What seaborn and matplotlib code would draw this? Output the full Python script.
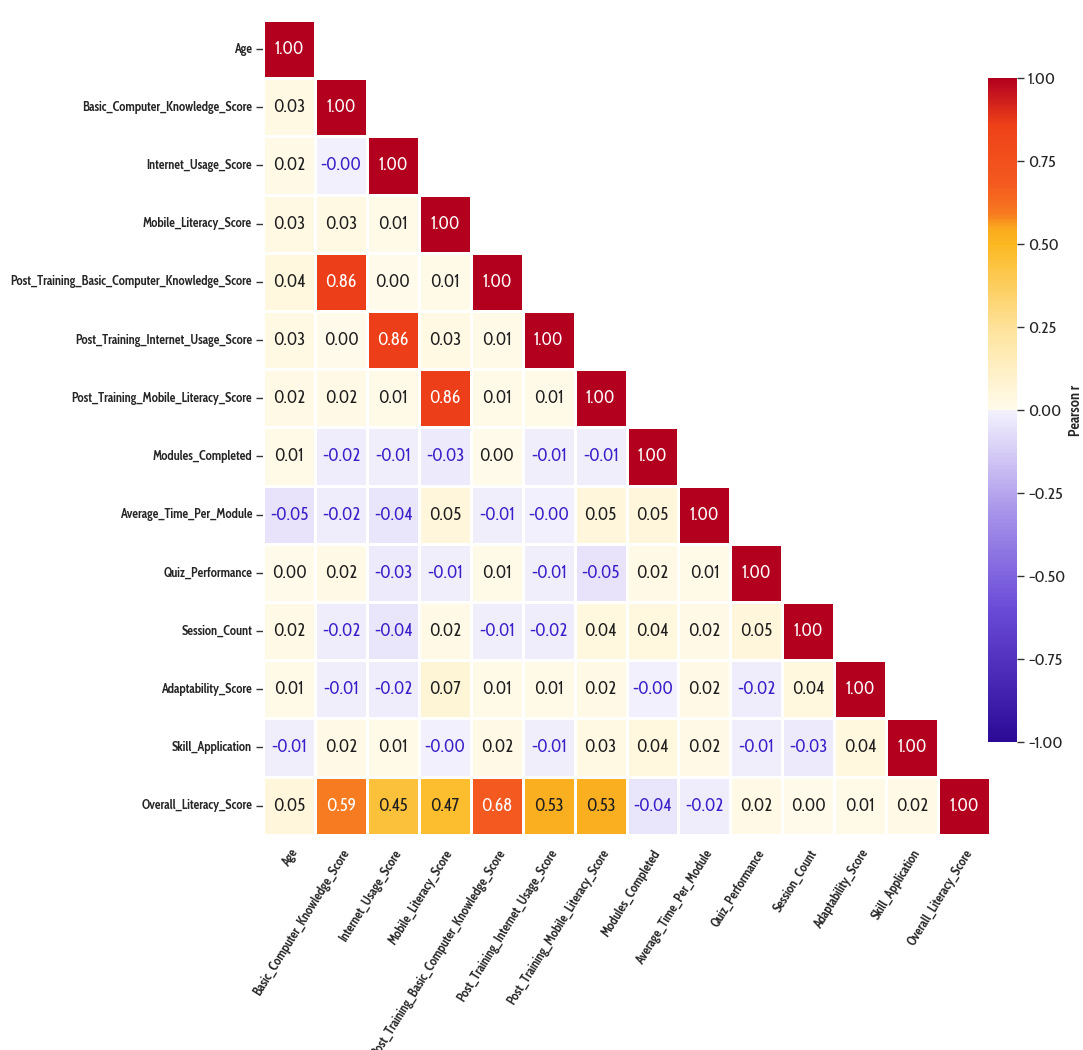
import numpy as np
import pandas as pd
import matplotlib
matplotlib.use("Agg")
import matplotlib.pyplot as plt
from matplotlib.colors import LinearSegmentedColormap
import seaborn as sns

features = [
    "Age",
    "Basic_Computer_Knowledge_Score",
    "Internet_Usage_Score",
    "Mobile_Literacy_Score",
    "Post_Training_Basic_Computer_Knowledge_Score",
    "Post_Training_Internet_Usage_Score",
    "Post_Training_Mobile_Literacy_Score",
    "Modules_Completed",
    "Average_Time_Per_Module",
    "Quiz_Performance",
    "Session_Count",
    "Adaptability_Score",
    "Skill_Application",
    "Overall_Literacy_Score",
]

# Lower-triangle Pearson correlations, row by row (diagonal included)
r_age = [1.00]
r_bck = [0.03, 1.00]
r_iu = [0.02, -0.004, 1.00]
r_ml = [0.03, 0.03, 0.01, 1.00]
r_pt_bck = [0.04, 0.86, 0.00, 0.01, 1.00]
r_pt_iu = [0.03, 0.00, 0.86, 0.03, 0.01, 1.00]
r_pt_ml = [0.02, 0.02, 0.01, 0.86, 0.01, 0.01, 1.00]
r_modules = [0.01, -0.02, -0.01, -0.03, 0.00, -0.01, -0.01, 1.00]
r_avg_time = [-0.05, -0.02, -0.04, 0.05, -0.01, -0.004, 0.05, 0.05, 1.00]
r_quiz = [0.00, 0.02, -0.03, -0.01, 0.01, -0.01, -0.05, 0.02, 0.01, 1.00]
r_session = [0.02, -0.02, -0.04, 0.02, -0.01, -0.02, 0.04, 0.04, 0.02, 0.05, 1.00]
r_adapt = [0.01, -0.01, -0.02, 0.07, 0.01, 0.01, 0.02, -0.004, 0.02, -0.02, 0.04, 1.00]
r_skill = [-0.01, 0.02, 0.01, -0.004, 0.02, -0.01, 0.03, 0.04, 0.02, -0.01, -0.03, 0.04, 1.00]
r_overall = [0.05, 0.59, 0.45, 0.47, 0.68, 0.53, 0.53, -0.04, -0.02, 0.02, 0.00, 0.01, 0.02, 1.00]

rows = [r_age, r_bck, r_iu, r_ml, r_pt_bck, r_pt_iu, r_pt_ml, r_modules,
        r_avg_time, r_quiz, r_session, r_adapt, r_skill, r_overall]

n = len(features)
mat = np.zeros((n, n))
for i, row in enumerate(rows):
    for j, v in enumerate(row):
        mat[i, j] = v
        mat[j, i] = v
corr = pd.DataFrame(mat, index=features, columns=features)
mask = np.triu(np.ones((n, n), dtype=bool), k=1)

# Diverging map: indigo -> pale lavender | cream -> gold -> orange -> dark red
cmap = LinearSegmentedColormap.from_list(
    "literacy_div",
    [
        (0.00, "#2b0a96"),
        (0.20, "#6a4bd8"),
        (0.35, "#a996ea"),
        (0.45, "#dcd5f7"),
        (0.499, "#f3f1fd"),
        (0.501, "#fffaeb"),
        (0.56, "#fef0c6"),
        (0.625, "#fde29a"),
        (0.725, "#fcc13a"),
        (0.75, "#fbb822"),
        (0.775, "#faa91e"),
        (0.795, "#f77c20"),
        (0.84, "#f45a1f"),
        (0.93, "#ee4119"),
        (1.00, "#b3001f"),
    ],
)

sns.set_theme(style="white")
face = ["Cabin Condensed", "Archivo Narrow", "DejaVu Sans"]
plt.rcParams["font.family"] = face
plt.rcParams["axes.unicode_minus"] = True

fig = plt.figure(figsize=(10.83, 10.50), dpi=100)
ax = fig.add_axes([0.243, 0.205, 0.671, 0.776])
cax = fig.add_axes([0.912, 0.293, 0.027, 0.633])

sns.heatmap(
    corr, mask=mask, cmap=cmap, vmin=-1, vmax=1, center=0,
    annot=False, square=False, linewidths=1.0, linecolor="white",
    cbar=True, cbar_ax=cax, ax=ax,
)

# Value labels with colour keyed to sign and magnitude
for i in range(n):
    for j in range(i + 1):
        v = mat[i, j]
        if v < 0:
            col = "#3a1ec8"
        elif v > 0.55:
            col = "white"
        else:
            col = "#1e1e1e"
        ax.text(j + 0.5, i + 0.5, f"{v:.2f}", ha="center", va="center",
                fontsize=12.5, color=col, family=face)

ax.set_xticks(np.arange(n) + 0.5)
ax.set_yticks(np.arange(n) + 0.5)
ax.set_xticklabels(features, rotation=58, ha="right", rotation_mode="anchor",
                   fontsize=9.1, fontweight="bold", family=face)
ax.set_yticklabels(features, rotation=0, fontsize=9.1, fontweight="bold",
                   family=face)
ax.tick_params(axis="y", length=5, width=1, color="#333333", pad=3, left=True)
ax.tick_params(axis="x", length=0, pad=9)
ax.set_xlabel("")
ax.set_ylabel("")

ticks = [-1, -0.75, -0.5, -0.25, 0, 0.25, 0.5, 0.75, 1]
cax.tick_params(labelsize=12, length=5, width=1, color="#333333", right=True,
                pad=3)
cax.set_yticks(ticks)
cax.set_yticklabels([f"{t:.2f}".replace("-", "\u2212") for t in ticks])
cax.set_ylabel("Pearson r", fontsize=10.5, fontweight="bold", labelpad=2)
for s in cax.spines.values():
    s.set_visible(False)

fig.savefig("out.png", dpi=100, facecolor="white")
